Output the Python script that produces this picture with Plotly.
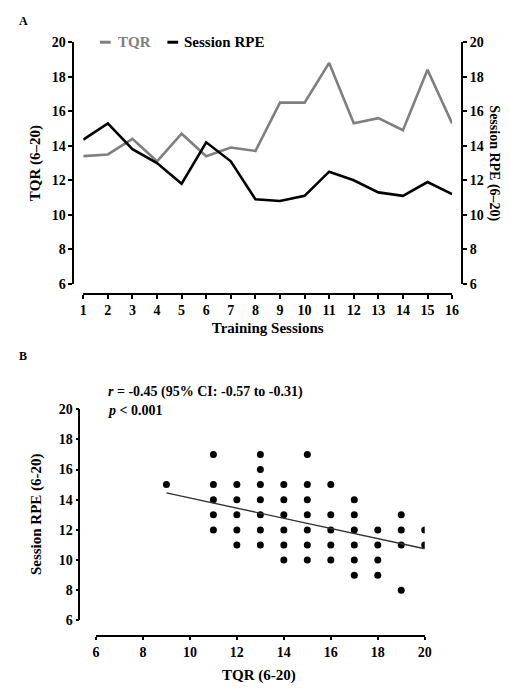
import plotly.graph_objects as go

W, H = 510, 695

# ---- Panel A data ----
sessions = list(range(1, 17))
tqr = [13.4, 13.5, 14.4, 13.1, 14.7, 13.4, 13.9, 13.7, 16.5, 16.5, 18.8, 15.3, 15.6, 14.9, 18.4, 15.3]
rpe = [14.35, 15.3, 13.8, 13.0, 11.8, 14.2, 13.1, 10.9, 10.8, 11.1, 12.5, 12.0, 11.3, 11.1, 11.9, 11.2]

# ---- Panel B data ----
scatter_tqr = ([9] + [11] * 5 + [12] * 5 + [13] * 7 + [14] * 6 + [15] * 7 +
               [16] * 5 + [17] * 6 + [18] * 4 + [19] * 4 + [20] * 2)
scatter_rpe = ([15] +
               [17, 15, 14, 13, 12] +
               [15, 14, 13, 12, 11] +
               [17, 16, 15, 14, 13, 12, 11] +
               [15, 14, 13, 12, 11, 10] +
               [17, 15, 14, 13, 12, 11, 10] +
               [15, 13, 12, 11, 10] +
               [14, 13, 12, 11, 10, 9] +
               [12, 11, 10, 9] +
               [13, 12, 11, 8] +
               [12, 11])
fit_x = [9, 20]
fit_y = [14.45, 10.75]

y_ticks = [6, 8, 10, 12, 14, 16, 18, 20]
x_ticks_b = [6, 8, 10, 12, 14, 16, 18, 20]


def fx(px):
    return px / W


def fy(py):
    return 1 - py / H


SERIF = "Liberation Serif"
tickfont = dict(family=SERIF, size=14, color="black", weight="bold")
titlefont = dict(family=SERIF, size=15, color="black", weight="bold")
GRAY = "#7f7f7f"

fig = go.Figure()

fig.add_trace(go.Scatter(x=sessions, y=tqr, mode="lines", name="TQR",
                         line=dict(color=GRAY, width=2.6),
                         xaxis="x", yaxis="y", showlegend=False))
fig.add_trace(go.Scatter(x=sessions, y=rpe, mode="lines", name="Session RPE",
                         line=dict(color="black", width=2.6),
                         xaxis="x", yaxis="y2", showlegend=False))

fig.add_trace(go.Scatter(x=scatter_tqr, y=scatter_rpe, mode="markers",
                         marker=dict(color="black", size=7),
                         xaxis="x2", yaxis="y3", showlegend=False))
fig.add_trace(go.Scatter(x=fit_x, y=fit_y, mode="lines",
                         line=dict(color="#333333", width=1.4),
                         xaxis="x2", yaxis="y3", showlegend=False))

axis_common = dict(showgrid=False, zeroline=False, showline=True,
                   linecolor="black", ticks="outside", tickcolor="black",
                   tickfont=tickfont)

fig.update_layout(
    width=W, height=H,
    margin=dict(l=0, r=0, t=0, b=0),
    paper_bgcolor="white", plot_bgcolor="white",
    xaxis=dict(domain=[fx(81), fx(458)], range=[1, 16], anchor="free",
               position=fy(293), tickvals=sessions, ticklen=4, linewidth=2,
               tickwidth=2,
               title=dict(text="Training Sessions", font=titlefont, standoff=4),
               **axis_common),
    yaxis=dict(domain=[fy(283), fy(36)], range=[6, 20], anchor="free",
               position=fx(71), tickvals=y_ticks, ticklen=4, linewidth=2,
               tickwidth=2,
               title=dict(text="TQR (6–20)", font=titlefont, standoff=6),
               **axis_common),
    yaxis2=dict(domain=[fy(283), fy(36)], range=[6, 20], anchor="free",
                overlaying="y", side="right", position=fx(468),
                tickvals=y_ticks, ticklen=4, linewidth=2, tickwidth=2,
                **axis_common),
    xaxis2=dict(domain=[fx(94), fx(430)], range=[6, 20], anchor="free",
                position=fy(643), tickvals=x_ticks_b, ticklen=3, linewidth=1.5,
                tickwidth=1.5,
                **axis_common),
    yaxis3=dict(domain=[fy(627), fy(411)], range=[6, 20], anchor="free",
                position=fx(77), tickvals=y_ticks, ticklen=3, linewidth=1.5,
                tickwidth=1.5,
                **axis_common),
)

annotations = [
    dict(text="A", x=fx(13), y=fy(14), xanchor="left", yanchor="middle",
         font=dict(family=SERIF, size=12, color="black", weight="bold")),
    dict(text="B", x=fx(13), y=fy(357), xanchor="left", yanchor="middle",
         font=dict(family=SERIF, size=12, color="black", weight="bold")),
    dict(text="TQR", x=fx(114), y=fy(36), xanchor="left", yanchor="middle",
         font=dict(family=SERIF, size=15, color=GRAY, weight="bold")),
    dict(text="Session RPE", x=fx(182), y=fy(36), xanchor="left", yanchor="middle",
         font=dict(family=SERIF, size=15, color="black", weight="bold")),
    dict(text="Session RPE (6–20)", x=fx(501), y=fy(160), textangle=90,
         xanchor="center", yanchor="middle",
         font=dict(family=SERIF, size=14, color="black", weight="bold")),
    dict(text="TQR (6-20)", x=fx(261), y=fy(683), xanchor="center",
         yanchor="middle", font=titlefont),
    dict(text="Session RPE (6-20)", x=fx(34), y=fy(518), textangle=-90,
         xanchor="center", yanchor="middle", font=titlefont),
    dict(text="<i>r</i> = -0.45 (95% CI: -0.57 to -0.31)", x=fx(104), y=fy(394),
         xanchor="left", yanchor="middle",
         font=dict(family=SERIF, size=14, color="black", weight="bold")),
    dict(text="<i>p</i> < 0.001", x=fx(104), y=fy(412),
         xanchor="left", yanchor="middle",
         font=dict(family=SERIF, size=14, color="black", weight="bold")),
]
for a in annotations:
    a.update(xref="paper", yref="paper", showarrow=False)
fig.update_layout(annotations=annotations)

fig.update_layout(shapes=[
    dict(type="line", xref="paper", yref="paper", x0=fx(98), x1=fx(109),
         y0=fy(36), y1=fy(36), line=dict(color=GRAY, width=3)),
    dict(type="line", xref="paper", yref="paper", x0=fx(167), x1=fx(178),
         y0=fy(36), y1=fy(36), line=dict(color="black", width=3)),
])

fig.write_html(
    "out.html",
    config={"displayModeBar": False},
    post_script="document.body.style.margin='0';document.body.style.padding='0';"
                "document.documentElement.style.overflow='hidden';",
)
